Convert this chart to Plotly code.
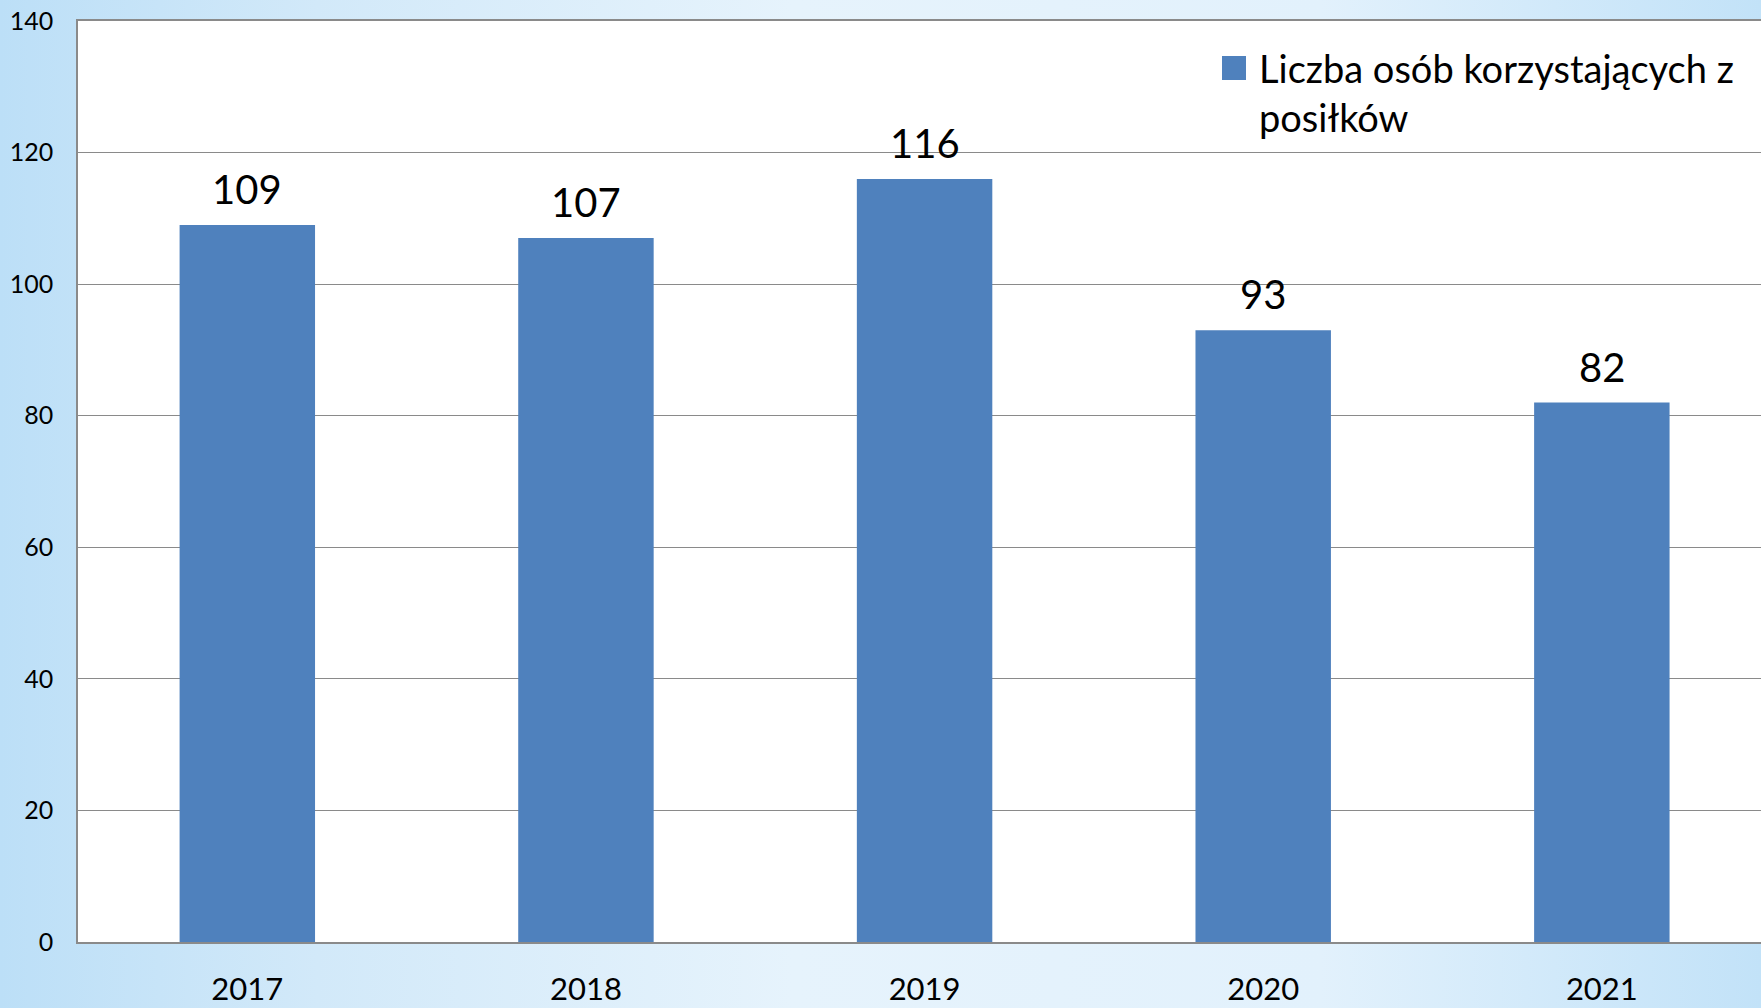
import base64
import plotly.graph_objects as go

years = ["2017", "2018", "2019", "2020", "2021"]
values = [109, 107, 116, 93, 82]
y_ticks = [0, 20, 40, 60, 80, 100, 120, 140]
series_name = "Liczba osób korzystających z<br>posiłków"

W, H = 1761, 1008
L, T, B = 78, 21, 942
PW, PH = W - L, B - T

def px_x(p):
    return (p - L) / PW

def px_y(p):
    return (B - p) / PH

FONT = "Lato, 'Open Sans', sans-serif"
BAR = "#4f81bd"
GRID = "#8a8a8a"

svg = f'''<svg xmlns="http://www.w3.org/2000/svg" width="{W}" height="{H}" preserveAspectRatio="none">
<defs><linearGradient id="g" x1="0" y1="0" x2="1" y2="0">
<stop offset="0" stop-color="#bcdff7"/>
<stop offset="0.18" stop-color="#d2e9f9"/>
<stop offset="0.45" stop-color="#e6f3fc"/>
<stop offset="0.75" stop-color="#e2f1fc"/>
<stop offset="1" stop-color="#c2e2f8"/>
</linearGradient></defs>
<rect width="100%" height="100%" fill="url(#g)"/></svg>'''
svg_uri = "data:image/svg+xml;base64," + base64.b64encode(svg.encode()).decode()

fig = go.Figure()
fig.add_trace(go.Bar(x=years, y=values, marker=dict(color=BAR, line=dict(width=0)),
                     name=series_name, showlegend=False))

for i, v in enumerate(values):
    fig.add_annotation(x=i, y=v, xref="x", yref="y", text=str(v), showarrow=False,
                       yanchor="bottom", yshift=10,
                       font=dict(family=FONT, size=40, color="black"))

# manual legend
fig.add_shape(type="rect", xref="paper", yref="paper",
              x0=px_x(1222), x1=px_x(1246), y0=px_y(80), y1=px_y(56),
              fillcolor=BAR, line=dict(width=0), layer="above")
fig.add_annotation(xref="paper", yref="paper", x=px_x(1257), y=px_y(92),
                   xanchor="left", yanchor="middle", align="left", showarrow=False,
                   text=series_name, font=dict(family=FONT, size=38, color="black"))

# white plot area
fig.add_shape(type="rect", xref="paper", yref="paper", x0=0, x1=1, y0=0, y1=1,
              fillcolor="white", line=dict(width=0), layer="below")

fig.add_layout_image(source=svg_uri, xref="paper", yref="paper",
                     x=-L / PW, y=1 + T / PH, sizex=W / PW, sizey=H / PH,
                     xanchor="left", yanchor="top", sizing="stretch", layer="below")

fig.update_layout(
    width=W, height=H,
    margin=dict(l=L, r=0, t=T, b=H - B, pad=0),
    paper_bgcolor="#d8ecfa",
    plot_bgcolor="rgba(0,0,0,0)",
    bargap=0.6,
    font=dict(family=FONT, color="black"),
    showlegend=False,
)
fig.update_xaxes(type="category", range=[-0.5, 4.47], showgrid=False, showline=True,
                 linecolor=GRID, linewidth=1.5, mirror=True, ticks="",
                 ticklabelstandoff=19, tickfont=dict(size=31, family=FONT),
                 automargin=False, fixedrange=True)
fig.update_yaxes(range=[0, 140], tickvals=y_ticks, showgrid=True, gridcolor=GRID,
                 gridwidth=1.3, showline=True, linecolor=GRID, linewidth=1.5,
                 mirror=True, ticks="", ticklabelstandoff=18, zeroline=False,
                 automargin=False, tickfont=dict(size=25, family=FONT))

fig.write_html("out.html", config={"displayModeBar": False},
               post_script="document.body.style.margin='0';document.body.style.overflow='hidden';")
